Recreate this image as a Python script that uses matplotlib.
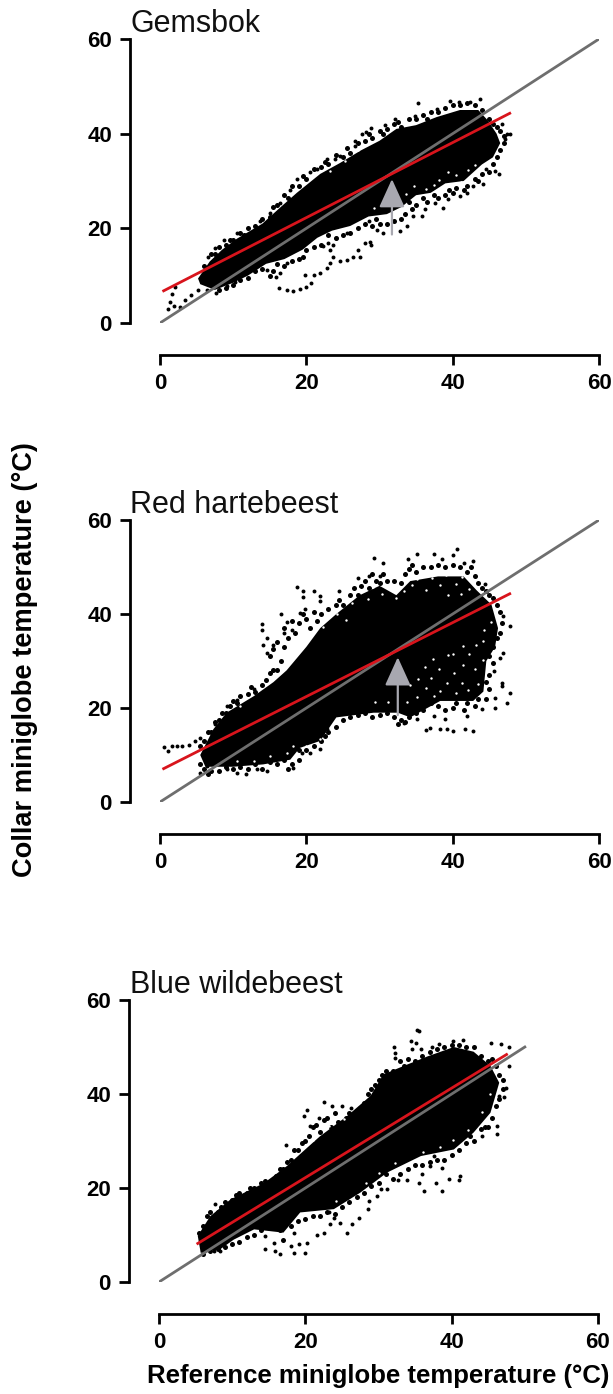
import matplotlib
matplotlib.use("Agg")
import matplotlib.pyplot as plt

plt.rcParams['font.family'] = ['Liberation Sans', 'DejaVu Sans']

titles = ["Gemsbok", "Red hartebeest", "Blue wildebeest"]
ticks = [0, 20, 40, 60]

# dense part of each cloud, outline
gem_core_x = [5.2, 6.8, 8.5, 10.5, 14, 16.5, 18.7, 21.9, 24.6, 27.5, 30, 32.3, 35, 37.8, 41, 43.5, 44.8, 46, 46.5, 45.5, 44, 41.5, 39, 37, 35, 33, 31, 28.5, 26, 23.5, 21.5, 19.5, 17, 14.5, 12, 10, 7.5, 5.5]
gem_core_y = [9.4, 13, 15.5, 17.8, 21, 24.5, 27.5, 31.5, 33.8, 36.5, 38.5, 41, 41.8, 43.5, 45, 45, 42.8, 40, 38, 35, 33.5, 30, 29.5, 27.5, 27, 24.5, 23, 22.5, 20.5, 19.5, 18, 15.5, 13.5, 12.5, 10, 8.5, 7, 8.2]
red_core_x = [5.5, 7.3, 9.1, 12.8, 15.5, 17.3, 20, 21.9, 24.1, 27.3, 30, 32.3, 34.2, 38, 41.5, 43.3, 45.3, 46.2, 45.8, 44.6, 44.2, 42.8, 38.3, 34.2, 32.5, 29.2, 24.1, 21.9, 19.1, 17.8, 14.1, 10, 6.2]
red_core_y = [10, 15.5, 19, 22.5, 25.5, 28, 33, 37, 40, 44, 46, 44, 47, 48, 48, 45, 42, 37, 33, 30, 23.5, 21.5, 21.5, 18, 19, 19, 18, 13, 11.5, 9, 8, 7.5, 7.5]
blu_core_x = [5.3, 7, 9.8, 14.3, 17.5, 20.2, 22, 25.7, 28.9, 30.7, 33.5, 36.7, 40.3, 43, 45.3, 46.5, 45.3, 43, 40.3, 35.8, 31.2, 27.5, 23.9, 19.3, 17, 13, 10.2, 8.4, 5.7]
blu_core_y = [9.8, 14, 17.6, 21, 24.7, 28.5, 31, 35.3, 39.6, 44.2, 46, 48, 50, 49, 46, 42.4, 36, 31.8, 28.2, 26.8, 23.3, 19, 15.5, 14.8, 10.5, 11.2, 9, 7, 6.2]

# separate dots around the dense part
gem_x = [35.3, 39.6, 40.8, 43.7, 42.4, 37.8, 34.9, 32.1, 30.8, 28.9, 28.2, 27.6, 26.7, 26.7, 24.6, 23.9, 22.8, 21.4, 20.5, 18.7, 17.8, 16.4, 15, 13.7, 10.5, 8.7, 7.5, 6.6,
         46.4, 45.8, 44.6, 47.8, 47.2, 47.4, 46.7, 44.2, 42.8, 41.9, 41, 39.4, 38.7, 37.6, 36.2, 35.8, 34.6, 33.7, 32.8, 30.5, 29.6, 28.5, 25.5, 24.1, 14.6, 15.9, 16.4, 17.3,
         1.1, 1.4, 1.6, 2, 1.9, 2.7, 3.4, 4.3, 5.2, 6.4, 7.7, 9.1, 10.3,
         16.3, 17.3, 18.2, 19.1, 20, 20.7, 19.8, 21, 21.9, 22.8, 23.2, 23.7, 23.2, 22.3, 23, 23.7, 24.6, 25.5, 26.4, 27.3, 27.1, 28, 28.7, 28.9]
gem_y = [46.5, 47, 46.7, 47.4, 46.7, 45.2, 43.8, 43.1, 41.8, 41.3, 40.3, 39.9, 38.5, 37.4, 35.3, 34.6, 34.6, 32.5, 31.8, 30.4, 28.2, 25.4, 23.3, 21.5, 19, 17.6, 15.8, 14,
         31.4, 32.1, 32.5, 39.9, 38.9, 39.9, 42, 29.3, 28.9, 27.5, 26.8, 26.1, 24.3, 25.4, 24, 22.6, 22.6, 20.4, 19.4, 19, 19.7, 21.5, 19, 17.9, 11.2, 9.8, 10.5, 12.6,
         3, 4.5, 6.2, 7.7, 3.6, 3.4, 4.8, 5.9, 7, 7, 6.4, 7.8, 8.7,
         7.3, 7, 6.7, 7.1, 7.7, 8.4, 10.1, 10.1, 10.5, 11.6, 12.6, 14, 15.5, 16.2, 16.9, 16.5, 13, 13.3, 14, 14, 15.5, 16.9, 17.2, 16.5]
red_x = [18.7, 19.6, 19.5, 21, 21.9, 21.9, 24.4, 14, 14, 14.6, 14.1, 15.5, 14.6, 16.6, 17.3, 18, 19.1, 19.8, 16.9, 29.2, 30.5, 30, 28.5, 27.1, 35.1, 33.9, 37.4, 38.6, 40.6, 40.1, 41.5, 42.8, 44.4,
         46.9, 47.9, 46.9, 46.5, 45.6, 46.7, 46.7, 47.8, 47.4, 45.8, 45.8, 44, 41.9, 42.8, 41.7, 40.1, 39.2, 38.3, 36.9, 36.4, 39, 37.4, 35.1, 33.3,
         0.5, 1.1, 1.6, 2.3, 3, 3.9, 4.8, 5.5, 7.5, 9.1, 10.5, 12.8,
         5.5, 6.4, 9.1, 10.5, 11.8, 13.2, 14.6, 16.4, 18.2, 19.4, 20.5, 21.9, 21.2, 22.8]
red_y = [45.8, 44.9, 43.7, 44.9, 43.8, 42.8, 45, 37.8, 36.7, 35, 33.5, 33.5, 31.8, 39.9, 38.2, 36.7, 40.3, 41, 36, 52, 50.9, 48, 48, 47.7, 52.7, 51.6, 52.7, 51.6, 53.8, 52.5, 50.9, 51.3, 46.3,
         39.6, 37.4, 31.8, 30.7, 27.9, 25.4, 24.7, 23.1, 21.1, 22.2, 20, 19.7, 18.3, 15.2, 15.5, 15.1, 15.5, 15.5, 15.8, 15.3, 17.6, 18.3, 17.6, 16.9,
         11.6, 10.9, 11.9, 11.9, 11.9, 12.1, 13, 13.7, 16.5, 20.4, 21.8, 24,
         6.2, 7.7, 7, 6.1, 5.9, 7, 6.6, 9.8, 7.3, 10.5, 10.5, 11.3, 14, 15.5]
blu_x = [35.3, 35.6, 34.4, 35.1, 32.1, 32.2, 34.6, 35.8, 32.3, 37.3, 38.3, 40.2, 41.5, 45.4, 46.7, 47.8, 47.8, 47.4, 47.1, 46.5, 46.2, 46.2, 44.2, 41.2, 41, 39.6, 38.7, 37.8, 36.2, 35.5, 36, 37.1, 38.7, 37.6,
         20.2, 22.5, 19.8, 23.7, 25, 26.2, 21.8, 20.7, 17.4, 7.7, 9.8,
         14.5, 14.5, 15.7, 15.9, 16.6, 18.4, 20, 20.2, 21.6, 22.5, 23.4, 23.9, 23.2, 18.4, 19.1, 18, 24.8, 25.7, 26.4, 27.3, 28.5, 28.7, 29.8, 30.3, 31.2, 32.6, 33.9, 8.4, 7.5]
blu_y = [53.6, 53.4, 51.3, 50.9, 49.9, 48.8, 49.5, 49.5, 47.7, 49.9, 50.6, 51.3, 51.5, 50.9, 50.6, 50, 46, 41.3, 39.4, 39.6, 33.2, 31.4, 31, 22.6, 21.8, 22, 19.4, 21.1, 19.4, 21.1, 22.9, 24.7, 24.3, 26.8,
         36.7, 38.3, 35.3, 37.4, 37.4, 37, 35, 33.2, 29.1, 16.5, 16.9,
         9.8, 7, 8.4, 6.6, 5.9, 6.2, 6.2, 8.4, 10.1, 10.5, 12.3, 13.7, 14.8, 10.5, 8, 7.7, 12.6, 10.5, 12.3, 13.7, 15.5, 17.2, 18.3, 19.7, 19.7, 21.8, 21.8, 6.6, 6.6]

# dots along the rough edge of each cloud
gem_edge = [(6,12),(7,14.5),(7.5,14.5),(8,16),(9,16.5),(9.5,17.5),(10,17.5),(11,19),(11.5,18.5),(12,20),(13,20.5),(14,22),(15,22.5),(15.5,24.5),(16,25),(17,27),(17.5,26.5),(18,29),(19,29),(19.5,31),(20,30.5),(21,32.5),(22,33),(22.5,34),(23,33.5),(24,35.5),(25,35),(25.5,37),(26,36),(27,38),(28,38.5),(28.5,40),(29,39),(30,40.5),(30.5,40),(31,41),(32,42),(32.5,42.5),(33,41.5),(34,43),(35,43),(36,44),(36.5,43),(37,44.5),(38,44.5),(39,45.5),(40,46),(41,46),(42,46.5),(43,46),(44,45),(45,43),(45.5,42),(46,41.5),(46.5,40.5),(47,39.5),(47,38),(46.5,36.5),(46,35),(45.5,33.5),
            (45,32),(44,31.5),(43.5,30),(43,30.5),(42,29),(41.5,28),(40.5,28.5),(40,27.5),(39.5,28),(39,27),(38,26.5),(37.5,27),(36.5,25.5),(36,26.5),(35,25),(34.5,24),(34,25.5),(33.5,23),(33,22),(32,21.5),(31,21),(30,21),(29.5,22),(29,20.5),(28,21),(27,20),(26,19),(25,18.5),(24,18),(23,18.5),(22,16.5),(21,16),(20,15.5),(19.5,14),(19,13.5),(18,13),(17,12),(16,12.5),(15.5,11),(15,10),(14,11.5),(13,11),(12,9.5),(11,9),(10,8),(9,7.5),(8,7)]
red_edge = [(5.5,12),(6,13),(6.5,15),(7,15),(7.5,17),(8,17.5),(8.5,19),(9,19),(9.5,20.5),(10,21.5),(10.5,21),(11,22.5),(12,23),(12.5,24.5),(13,23.5),(14,25),(14.5,26),(15,27.5),(15.5,28),(16,28),(16.5,30),(15,31),(15.5,32.5),(16,34),(17,33),(17.5,35),(17,37),(18,38.5),(18.5,36),(19,38),(19.5,40),(20,39),(20.5,37),(21,40.5),(21.5,38.5),(22,40),(23,41),(24,42),(24.5,43),(25,42),(26,44),(26.5,45.5),(27,44),(27.5,46),(28,47),(28.5,45.5),(29,48.5),(29.5,47),(30,46.5),(30.5,48.5),(31,47),(32,47),(33,46.5),(33.5,48.5),(34,49.5),(34.5,50.5),(35,49),(36,50),(37,50),(38,50.5),(39,50),(40,50.5),(41,50),(42,49),(42.5,50),(43,48),(43.5,46.5),(44,45.5),(44.5,45),(45,44),(45.5,43.5),(46,42),(46.5,40.5),(46.7,38),(46.5,36),(46,35),(45.5,33),(45,31),(45.5,29.5),(45,27),(44.5,25.5),(45,24),(44.5,22),
            (43.5,22),(43,20.5),(42,21),(41.5,19.5),(40.5,21),(40,20),(39,19.5),(38,20.5),(37,21),(36,19.5),(35,19),(34,18),(33.5,17),(33,17.5),(32.5,16.5),(32,18),(31,19),(30,18.5),(29,18),(28,19),(27,18.5),(26,18),(25,17.5),(24,16),(23,15),(22.5,14),(22,13),(21,12),(20,11),(19,11),(19,9),(18,8),(17.5,7),(17,9),(16,8),(15,8.5),(14,7),(13,8),(12,7),(11,7.5),(10,7),(9,7.5),(8,6.5),(7,6.5),(6.5,6),(6,7),(5.5,8)]
blu_edge = [(5.5,10.5),(6,12),(6.5,14),(7,15),(8,15),(8.5,16),(9,17),(10,17.5),(10.5,18.5),(11,19),(12,19),(12.5,20),(13,20),(14,21),(14.5,21.5),(15,21),(16,22.5),(16.5,24),(17,24),(17.5,25.5),(18,26),(18.5,28),(19,28),(19.5,29.5),(20,30),(20.5,31),(21,33),(21.5,33.5),(22,32),(22.5,34.5),(23,35),(23.5,33),(24,36),(24.5,34),(25,33),(25.5,35),(26,36),(26.5,35),(27,36),(27.5,37),(28,38),(28.5,40),(29,41),(29.5,42),(30,43),(30.5,44),(31,45),(31.5,44),(32,45),(33,47),(33.5,46),(34,47.5),(35,47),(36,48),(37,49),(38,49.5),(39,50),(40,50.5),(41,50.5),(42,50),(43,50),(44,48),(45,47),(45.5,47.5),(46,46),(46.5,44),(47,43),(47,41),(46.5,39),(46,37.5),(45.5,35),(45,33),(44.5,33),(44,32.5),
            (43,30),(42.5,31),(42,29.5),(41,28),(40,27),(39,26),(38,26),(37,25.5),(36,25),(35,25),(34,24),(33,23),(32,22),(31,23),(30,21),(29,20.5),(28,19),(27,18),(26,17),(25,16),(24,14.5),(23,15),(22,14),(21,14),(20,13.5),(19,13),(18,12),(17,9),(16.5,11),(16,11.5),(15,12),(14,11),(13,10),(12,9.5),(11,8.5),(10,8),(9,7.5),(8,7),(7,6.5),(6,6)]

# small white gaps where the cloud is thin
gem_gaps = [(38.2,30.3),(40.4,31.2),(42.1,32.4),(36.3,28.4),(33.6,27.2),(34.7,28.9),(41.2,29.8),(43.1,33.3),(37.4,29.1),(39.3,31.8),(35.2,26.6),(23.2,32.1),(25.3,34.2),(27.1,36.6),(31.4,25.2),(29.2,24.3)]
red_gaps = [(27.2,45.3),(28.4,43.1),(29.1,45.8),(30.3,44.2),(31.4,45.6),(32.2,43.3),(33.3,44.8),(34.4,46.2),(35.1,47.4),(36.3,45.1),(37.2,47.6),(38.3,46.2),(39.1,48.3),(40.4,46.3),(41.3,47.8),(42.2,45.4),(42.7,47.1),(41.1,44.3),(39.4,44.1),(36.2,48.2),(34.2,48.1),(26.3,42.4),(24.2,40.1),(25.4,38.7),(22.3,37.2),(20.2,35.3),(19.1,34.4),(18.3,31.2),
            (37.3,30.4),(38.1,28.2),(39.4,31.3),(40.2,27.4),(41.4,29.2),(42.3,31.4),(43.1,28.3),(44.2,30.2),(43.4,25.1),(42.1,23.8),(41.3,25.4),(40.4,23.2),(39.2,25.3),(38.3,23.7),(37.1,26.4),(36.4,24.2),(35.1,22.3),(36.2,28.8),(35.3,26.1),(34.2,24.8),(37.4,22.6),(33.7,21.2),(31.2,21.3),(29.4,21.2),(44.1,34.3),(45.2,38.2),(44.3,36.7),(43.2,33.4),(41.4,33.2),(40.1,31.4),
            (10.5,8.7),(12.8,8.7),(15,9.8),(17.3,10.5),(18.2,12),(20,12),(21.9,13.3),(10.9,20.4)]
blu_gaps = [(42.2,32.3),(44.1,36.2),(45.3,40.1),(40.2,30.3),(38.4,28.7),(36.1,27.6),(23.2,33.1),(25.3,34.6),(21.1,30.2),(32.2,25.3),(30.1,23.2),(28.3,21.1),(24.2,17.2)]

# regression lines and lines of identity
red_line_x = [[0.5, 47.8], [0.5, 47.8], [5.3, 47.5]]
red_line_y = [[6.8, 44.3], [7.1, 44.3], [8.2, 48.4]]
id_line_end = [60, 60, 50]
# arrow x, tail y, tip y (none on the third panel)
arrows = [(31.7, 18.7, 30.4), (32.5, 18.5, 30.8), None]

core_x = [gem_core_x, red_core_x, blu_core_x]
core_y = [gem_core_y, red_core_y, blu_core_y]
dots_x = [gem_x, red_x, blu_x]
dots_y = [gem_y, red_y, blu_y]
edges = [gem_edge, red_edge, blu_edge]
gaps = [gem_gaps, red_gaps, blu_gaps]

W, H = 613, 1394
zero_y = [323, 802, 1282]   # pixel row of y=0
top_y = [39, 520, 1000]     # pixel row of y=60
left_x = [160, 160, 159]

fig = plt.figure(figsize=(W / 100, H / 100), dpi=100)
for i in range(3):
    ax = fig.add_axes([left_x[i] / W, 1 - zero_y[i] / H, 439 / W, (zero_y[i] - top_y[i]) / H])
    ax.set_xlim(0, 60)
    ax.set_ylim(0, 60)
    ax.patch.set_visible(False)
    ax.fill(core_x[i], core_y[i], color='black', lw=0, zorder=2)
    ax.scatter(dots_x[i], dots_y[i], s=8, c='black', lw=0, zorder=2)
    ax.scatter([p[0] for p in edges[i]], [p[1] for p in edges[i]], s=13, c='black', lw=0, zorder=2)
    ax.scatter([p[0] for p in gaps[i]], [p[1] for p in gaps[i]], s=3, c='white', lw=0, zorder=2.5)
    ax.plot([0, id_line_end[i]], [0, id_line_end[i]], color='#6e6e6e', lw=2, zorder=3)
    ax.plot(red_line_x[i], red_line_y[i], color='#d8141c', lw=2, zorder=4)
    if arrows[i]:
        ax_x, tail, tip = arrows[i]
        ax.annotate('', xy=(ax_x, tip), xytext=(ax_x, tail), zorder=5,
                    arrowprops=dict(arrowstyle='-|>,head_width=0.5,head_length=1.1', mutation_scale=16,
                                    color='#a8a8b0', lw=1.6, shrinkA=0, shrinkB=0))
    for side in ['top', 'right']:
        ax.spines[side].set_visible(False)
    ax.spines['left'].set_position(('outward', 21.6))
    ax.spines['bottom'].set_position(('outward', 23))
    for side in ['left', 'bottom']:
        ax.spines[side].set_linewidth(2)
    ax.set_xticks(ticks)
    ax.set_yticks(ticks)
    ax.tick_params(length=7, width=2, labelsize=16, pad=6)
    for lab in ax.get_xticklabels() + ax.get_yticklabels():
        lab.set_fontweight('bold')
    fig.text(130 / W, 1 - (top_y[i] - 15) / H, titles[i], fontsize=22, ha='left', va='center', color='#111111')

fig.text(25 / W, 1 - 660 / H, "Collar miniglobe temperature (°C)", rotation=90,
         fontsize=19.6, fontweight='bold', ha='center', va='center')
fig.text(378 / W, 1 - 1376 / H, "Reference miniglobe temperature (°C)",
         fontsize=18.5, fontweight='bold', ha='center', va='center')
fig.savefig("out.png", dpi=100)
